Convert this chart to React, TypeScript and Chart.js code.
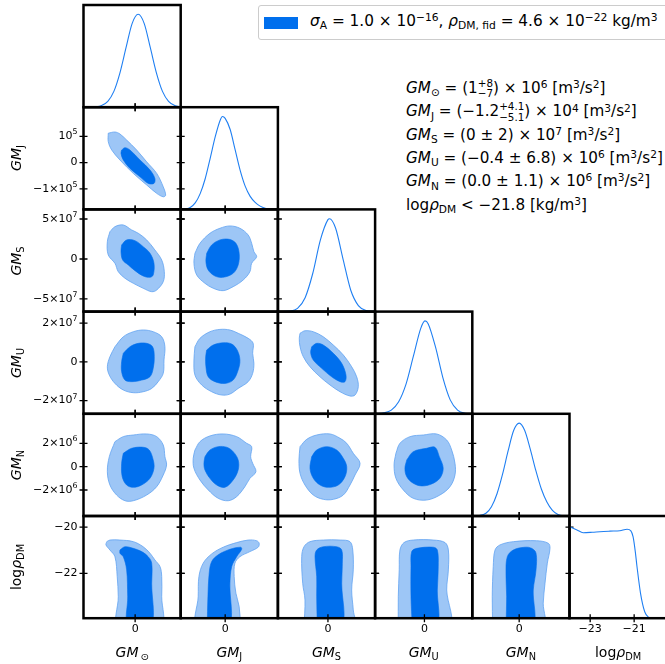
import React, { useEffect, useRef } from 'react';
import { Chart, registerables } from 'chart.js';
Chart.register(...registerables);

// ---------- axis definitions (units: GM_sun 1e6, GM_J 1e4, GM_S 1e7, GM_U 1e6, GM_N 1e6 m^3/s^2; log rho) ----------
const RANGES: [number, number][] = [[-34, 30], [-17.8, 21.1], [-6.58, 6.2], [-26.8, 26.0], [-4.23, 4.54], [-23.94, -19.52]];
const X_TICKS = [[0], [0], [0], [0], [0], [-23, -21]];
const X_TICK_LABELS = [['0'], ['0'], ['0'], ['0'], ['0'], ['−23', '−21']];
const Y_TICKS = [[], [-10, 0, 10], [-5, 0, 5], [-20, 0, 20], [-2, 0, 2], [-22, -20]];
const Y_TICK_LABELS = [[], ['−1×10^5', '0', '10^5'], ['−5×10^7', '0', '5×10^7'], ['−2×10^7', '0', '2×10^7'], ['−2×10^6', '0', '2×10^6'], ['−22', '−20']];

// ---------- 1D marginals (x, relative density) ----------
const sunCurve = [[-30, 0], [-26, 0.004], [-22, 0.019], [-18, 0.063], [-14, 0.17], [-10, 0.37], [-6, 0.64], [-2, 0.9], [2, 1.0], [6, 0.9], [10, 0.64], [14, 0.37], [18, 0.17], [22, 0.063], [26, 0.019], [30, 0.004]];
const jCurve = [[-17.8, 0], [-16, 0.005], [-14, 0.02], [-12, 0.07], [-10, 0.17], [-8, 0.33], [-6, 0.55], [-4, 0.78], [-2, 0.96], [-1.1, 1.0], [0, 0.98], [2, 0.86], [4, 0.64], [6, 0.42], [8, 0.25], [10, 0.14], [12, 0.075], [14, 0.035], [16, 0.013], [18, 0.004], [21, 0]];
const sCurve = [[-6.5, 0], [-5, 0.006], [-4, 0.035], [-3, 0.15], [-2, 0.41], [-1, 0.77], [0, 0.99], [0.2, 1.0], [1, 0.9], [2, 0.56], [3, 0.23], [4, 0.065], [5, 0.012], [6.2, 0]];
const uCurve = [[-26.8, 0], [-22, 0.01], [-18, 0.04], [-14, 0.13], [-10, 0.32], [-6, 0.62], [-2, 0.92], [0.3, 1.0], [2, 0.97], [6, 0.72], [10, 0.39], [14, 0.15], [18, 0.04], [22, 0.006], [26, 0]];
const nCurve = [[-4.23, 0], [-3.6, 0.005], [-3, 0.03], [-2.5, 0.1], [-2, 0.24], [-1.5, 0.45], [-1, 0.7], [-0.5, 0.92], [0, 1.0], [0.5, 0.92], [1, 0.72], [1.5, 0.49], [2, 0.29], [2.5, 0.15], [3, 0.06], [3.5, 0.015], [4, 0.002], [4.54, 0]];
const rhoCurve = [[-23.94, 0.985], [-23.6, 0.95], [-23.32, 0.92], [-22.9, 0.925], [-22.56, 0.931], [-22.1, 0.937], [-21.65, 0.942], [-21.32, 0.957], [-21.15, 0.94], [-21.05, 0.877], [-20.95, 0.72], [-20.87, 0.554], [-20.71, 0.268], [-20.52, 0.07], [-20.34, 0.01], [-20.2, 0]];

// ---------- 2D contours: inner (68%) and outer (95%) ----------
const sunJ_outer = [[-17.7, 11.2], [-13.3, 11.65], [-10.0, 10.9], [-5.6, 8.6], [1.0, 4.8], [7.6, 0.3], [14.2, -4.1], [18.5, -9.2], [20.1, -12.4], [18.5, -13.0], [14.2, -11.7], [7.6, -8.5], [-1.2, -4.1], [-10.0, 1.0], [-15.4, 4.8], [-17.7, 8.0]];
const sunJ_inner = [[-8.9, 4.8], [-6.7, 5.7], [-3.4, 4.8], [3.2, 1.0], [9.8, -2.8], [13.0, -6.0], [12.4, -7.9], [8.6, -7.9], [3.2, -5.4], [-3.4, -2.2], [-7.8, 1.0], [-9.3, 3.5]];
const sunS_outer = [[-16.6, 3.41], [-13.3, 4.04], [-7.8, 4.25], [-2.3, 3.63], [2.1, 3.21], [7.6, 2.38], [13.0, 1.13], [17.5, -0.13], [19.2, -1.59], [18.5, -2.84], [14.2, -3.88], [10.9, -4.09], [5.3, -3.66], [-1.2, -3.04], [-6.7, -2.41], [-11.1, -1.59], [-13.3, -0.54], [-17.7, 0.5], [-18.3, 2.16]];
const sunS_inner = [[-8.9, 1.75], [-5.6, 2.38], [-0.1, 2.29], [5.3, 1.54], [9.8, 0.71], [12.4, -0.54], [11.9, -2.0], [9.8, -2.29], [5.3, -2.13], [-0.1, -1.46], [-4.5, -0.75], [-8.2, -0.13], [-9.3, 0.91]];
const sunU_outer = [[-13.3, 7.85], [-7.8, 13.0], [-1.2, 15.6], [5.3, 16.5], [11.9, 15.6], [17.5, 13.0], [19.6, 7.85], [19.0, 1.0], [18.5, -5.9], [15.2, -10.2], [10.9, -13.7], [5.3, -15.4], [-1.2, -15.9], [-7.8, -14.5], [-13.3, -11.1], [-17.0, -6.8], [-18.3, -2.5], [-16.6, 2.7]];
const sunU_inner = [[-7.8, 4.44], [-3.4, 7.85], [2.1, 9.6], [7.6, 9.6], [11.5, 7.85], [12.6, 2.7], [11.9, -3.3], [9.8, -7.6], [4.3, -9.4], [-2.3, -10.2], [-6.7, -9.4], [-8.9, -5.1], [-8.9, 0.1]];
const sunN_outer = [[-13.3, 2.15], [-7.8, 2.58], [-1.2, 2.72], [7.6, 2.81], [14.2, 2.58], [18.5, 1.86], [19.6, 0.86], [20.7, 0.15], [18.5, -0.71], [14.2, -1.71], [7.6, -2.43], [-1.2, -2.92], [-6.7, -2.92], [-12.2, -2.43], [-16.6, -1.57], [-18.3, -0.43], [-17.0, 0.86]];
const sunN_inner = [[-7.8, 1.15], [-2.3, 1.58], [5.3, 1.67], [9.3, 1.43], [11.9, 0.58], [12.4, -0.14], [9.8, -0.99], [4.3, -1.57], [-1.2, -1.77], [-5.6, -1.57], [-8.5, -0.86], [-8.9, 0.29]];
const sunRho_outer = [[-18.7, -20.63], [-16.6, -20.56], [-10.0, -20.56], [-1.2, -20.63], [5.3, -20.85], [9.8, -21.13], [13.0, -21.42], [16.4, -21.71], [17.5, -22.14], [17.5, -23.01], [17.0, -24.3], [-11.1, -24.3], [-11.1, -23.01], [-11.8, -22.14], [-13.3, -21.28], [-16.6, -20.99], [-19.2, -20.77]];
const sunRho_inner = [[-10.0, -20.99], [-6.7, -20.85], [-1.2, -20.92], [4.3, -21.06], [8.6, -21.28], [10.9, -21.56], [10.9, -22.43], [10.4, -24.3], [-4.5, -24.3], [-4.9, -23.01], [-5.6, -21.85], [-7.8, -21.28], [-10.0, -21.13]];
const jS_outer = [[-12.1, 0.71], [-10.1, 1.96], [-6.1, 3.21], [-2.1, 3.84], [1.9, 4.13], [5.9, 3.84], [9.2, 3.0], [10.6, 1.96], [11.5, 0.91], [12.6, 0.29], [10.6, -0.54], [9.9, -1.59], [7.2, -2.63], [3.2, -3.46], [-0.8, -3.96], [-4.8, -3.66], [-8.1, -3.04], [-11.4, -2.0], [-12.5, -0.54]];
const jS_inner = [[-7.4, 0.71], [-5.4, 1.75], [-2.1, 2.38], [1.6, 2.46], [4.3, 1.96], [5.6, 0.71], [5.2, -0.75], [3.2, -1.79], [-0.8, -2.29], [-4.1, -2.13], [-6.8, -1.38], [-7.7, -0.34]];
const jU_outer = [[-12.1, 7.85], [-10.1, 12.2], [-6.1, 15.6], [-2.1, 16.8], [1.9, 16.5], [5.2, 14.8], [9.2, 12.2], [11.2, 9.6], [11.0, 4.4], [11.5, -0.7], [11.0, -5.9], [9.2, -10.2], [5.2, -13.7], [1.9, -16.6], [-1.4, -17.1], [-5.4, -15.4], [-9.4, -11.9], [-12.1, -6.8], [-12.5, 1.0]];
const jU_inner = [[-7.4, 6.15], [-4.8, 8.73], [-0.8, 9.9], [2.6, 9.25], [4.8, 6.15], [5.9, 0.98], [5.2, -4.19], [3.2, -9.36], [-0.1, -11.1], [-4.1, -10.2], [-6.8, -7.66], [-7.7, -2.49], [-7.8, 2.68]];
const jN_outer = [[-12.1, 1.43], [-10.1, 2.15], [-6.1, 2.64], [-0.8, 2.81], [4.6, 2.58], [8.6, 2.01], [10.6, 1.72], [10.2, 0.86], [11.0, 0.29], [12.3, -0.43], [9.9, -1.0], [7.9, -1.71], [4.6, -2.57], [1.2, -2.92], [-2.8, -2.71], [-6.8, -1.99], [-10.1, -1.14], [-12.5, -0.14], [-12.8, 0.72]];
const jN_inner = [[-8.1, 0.86], [-6.1, 1.43], [-2.8, 1.72], [0.6, 1.67], [3.2, 1.29], [5.2, 0.58], [5.2, -0.28], [3.2, -1.14], [-0.1, -1.77], [-3.4, -1.57], [-6.1, -1.0], [-8.1, -0.28], [-8.5, 0.29]];
const jRho_outer = [[6.2, -24.3], [5.6, -23.44], [4.3, -22.86], [3.6, -22.14], [3.9, -21.56], [5.9, -21.28], [9.9, -21.06], [13.2, -20.87], [13.6, -20.70], [12.6, -20.59], [9.2, -20.56], [4.6, -20.67], [-0.8, -20.87], [-5.4, -21.16], [-8.8, -21.56], [-10.5, -22.14], [-10.8, -23.01], [-11.2, -24.3]];
const jRho_inner = [[-7.2, -24.3], [-6.9, -23.01], [-6.4, -22.0], [-5.4, -21.49], [-2.8, -21.2], [1.9, -20.96], [6.2, -20.87], [6.6, -20.96], [4.6, -21.28], [2.6, -21.71], [1.9, -22.43], [1.6, -24.3]];
const sU_outer = [[-3.67, 14.8], [-3.02, 16.1], [-1.93, 15.6], [-0.61, 13.0], [0.71, 8.7], [2.02, 3.6], [3.12, -2.5], [3.78, -7.7], [3.99, -12.8], [3.56, -17.1], [2.9, -17.6], [1.59, -15.4], [0.27, -11.9], [-1.04, -7.7], [-2.36, -2.5], [-3.24, 2.7], [-3.67, 7.9], [-3.77, 12.2]];
const sU_inner = [[-2.14, 7.85], [-1.48, 9.6], [-0.61, 8.73], [0.71, 4.44], [1.81, -0.73], [2.37, -6.78], [2.24, -10.2], [1.59, -10.2], [0.49, -7.66], [-0.82, -3.31], [-1.93, 0.98], [-2.27, 4.75]];
const sN_outer = [[-3.67, 1.72], [-2.79, 2.35], [-1.48, 2.72], [0.27, 2.81], [1.59, 2.44], [2.47, 2.01], [3.33, 1.15], [4.22, 0.29], [3.56, -0.71], [2.9, -1.57], [2.02, -2.43], [0.71, -2.80], [-0.61, -2.80], [-1.93, -2.43], [-3.02, -1.57], [-3.67, -0.57], [-3.81, 0.58]];
const sN_inner = [[-2.14, 0.86], [-1.48, 1.43], [-0.16, 1.72], [1.15, 1.43], [2.02, 0.72], [2.47, 0.0], [2.24, -0.86], [1.36, -1.57], [0.05, -1.77], [-1.04, -1.57], [-1.93, -0.99], [-2.36, -0.14]];
const sRho_outer = [[-3.15, -24.3], [-3.02, -23.15], [-3.32, -22.43], [-3.45, -21.28], [-3.15, -20.85], [-2.36, -20.63], [-0.61, -20.56], [1.59, -20.56], [2.9, -20.63], [3.26, -20.99], [3.33, -21.85], [3.12, -22.72], [3.33, -23.58], [3.43, -24.3]];
const sRho_inner = [[-1.4, -24.3], [-1.48, -23.01], [-1.48, -22.14], [-1.7, -21.28], [-1.48, -20.99], [-0.61, -20.85], [1.15, -20.85], [1.81, -20.99], [1.89, -21.56], [1.81, -22.43], [1.81, -24.3]];
const uN_outer = [[-15.5, 1.15], [-13.3, 2.01], [-7.8, 2.58], [-0.6, 2.72], [6.6, 2.81], [12.1, 2.29], [14.8, 1.43], [16.6, 0.29], [16.6, -0.71], [13.9, -1.71], [8.4, -2.43], [1.2, -2.86], [-6.1, -2.71], [-11.5, -1.99], [-15.5, -0.99], [-16.5, 0.15]];
const uN_inner = [[-9.6, 0.58], [-6.1, 1.29], [1.2, 1.58], [5.7, 1.67], [8.1, 0.86], [10.2, -0.14], [8.4, -0.99], [3.9, -1.48], [-1.5, -1.65], [-6.1, -1.42], [-9.6, -0.86], [-10.6, -0.14]];
const uRho_outer = [[-14.2, -24.3], [-14.2, -23.01], [-13.7, -21.85], [-13.3, -20.99], [-11.1, -20.67], [-6.1, -20.56], [4.8, -20.56], [11.2, -20.67], [13.0, -20.99], [13.0, -21.85], [12.1, -22.72], [13.5, -24.3]];
const uRho_inner = [[-6.6, -24.3], [-7.3, -23.01], [-7.3, -21.71], [-6.9, -21.06], [-4.2, -20.92], [4.8, -20.87], [7.0, -20.99], [7.5, -21.71], [7.0, -22.72], [6.6, -24.3]];
const nRho_outer = [[-2.39, -24.3], [-2.43, -23.01], [-2.34, -21.71], [-2.18, -20.99], [-1.73, -20.77], [-0.53, -20.63], [1.58, -20.59], [2.63, -20.70], [2.78, -20.92], [2.54, -21.56], [2.33, -22.43], [2.17, -23.29], [2.17, -24.3]];
const nRho_inner = [[-1.19, -24.3], [-1.13, -23.01], [-1.19, -22.0], [-1.07, -21.28], [-0.53, -20.99], [0.52, -20.87], [1.13, -20.92], [1.52, -21.13], [1.52, -21.85], [1.27, -22.72], [1.22, -24.3]];

const CURVES = [sunCurve, jCurve, sCurve, uCurve, nCurve, rhoCurve];
const CONTOURS: Record<string, number[][][]> = {
  '1,0': [sunJ_inner, sunJ_outer], '2,0': [sunS_inner, sunS_outer], '3,0': [sunU_inner, sunU_outer],
  '4,0': [sunN_inner, sunN_outer], '5,0': [sunRho_inner, sunRho_outer],
  '2,1': [jS_inner, jS_outer], '3,1': [jU_inner, jU_outer], '4,1': [jN_inner, jN_outer], '5,1': [jRho_inner, jRho_outer],
  '3,2': [sU_inner, sU_outer], '4,2': [sN_inner, sN_outer], '5,2': [sRho_inner, sRho_outer],
  '4,3': [uN_inner, uN_outer], '5,3': [uRho_inner, uRho_outer],
  '5,4': [nRho_inner, nRho_outer],
};

// ---------- style ----------
const COL_L = 83.5, COL_W = 97.2, ROW_T = 5, ROW_H = 102.2;
const FONT = '"DejaVu Sans", sans-serif';
const DARK = '#006FED';
const LIGHT = '#9DC6F6';
const EDGE = '#62A3F1';
const LINE = '#1F7FF2';
const TICK_FONT = 11;

function drawLabel(ctx: CanvasRenderingContext2D, text: string, x: number, y: number, align: string, size: number) {
  const parts = text.split('^');
  const base = parts[0];
  const exp = parts[1];
  const es = size * 0.72;
  ctx.font = `${size}px ${FONT}`;
  const wb = ctx.measureText(base).width;
  let we = 0;
  if (exp) { ctx.font = `${es}px ${FONT}`; we = ctx.measureText(exp).width; }
  const total = wb + we;
  const x0 = align === 'right' ? x - total : x - total / 2;
  ctx.textAlign = 'left';
  ctx.textBaseline = 'middle';
  ctx.fillStyle = '#000';
  ctx.font = `${size}px ${FONT}`;
  ctx.fillText(base, x0, y);
  if (exp) { ctx.font = `${es}px ${FONT}`; ctx.fillText(exp, x0 + wb, y - size * 0.38); }
}

function Panel({ r, c }: { r: number; c: number }) {
  const ref = useRef<HTMLCanvasElement>(null);
  const L = COL_L + c * COL_W, T = ROW_T + r * ROW_H, R = L + COL_W, B = T + ROW_H;
  const padL = c === 0 ? 82 : 8, padR = 8, padT = 8, padB = r === 5 ? 24 : 8;
  const left = Math.floor(L - padL), top = Math.floor(T - padT);
  const w = Math.ceil(R + padR) - left, h = Math.ceil(B + padB) - top;
  const diag = r === c;

  useEffect(() => {
    const canvas = ref.current;
    if (!canvas) return;
    const toXY = (arr: number[][]) => arr.map(p => ({ x: p[0], y: p[1] }));
    const closed = (arr: number[][]) => toXY([...arr, arr[0]]);
    let datasets: any[];
    if (diag) {
      datasets = [{ data: toXY(CURVES[c]), borderColor: LINE, borderWidth: 1.1, pointRadius: 0, fill: false, cubicInterpolationMode: 'monotone', clip: 0 }];
    } else {
      const [inner, outer] = CONTOURS[`${r},${c}`];
      datasets = [
        { data: closed(inner), backgroundColor: DARK, borderColor: DARK, borderWidth: 0.6, fill: 'shape', tension: 0.35, pointRadius: 0, clip: 0 },
        { data: closed(outer), backgroundColor: LIGHT, borderColor: EDGE, borderWidth: 0.8, fill: 'shape', tension: 0.35, pointRadius: 0, clip: 0 },
      ];
    }
    const frame = {
      id: 'frame',
      afterDatasetsDraw(chart: any) {
        const { ctx, chartArea: a, scales } = chart;
        const xs = scales.x, ys = scales.y;
        ctx.save();
        ctx.strokeStyle = '#000';
        ctx.lineWidth = 1.3;
        const tl = 4;
        ctx.beginPath();
        X_TICKS[c].forEach(v => {
          const px = xs.getPixelForValue(v);
          ctx.moveTo(px, a.bottom - tl); ctx.lineTo(px, a.bottom + tl);
          if (!diag) { ctx.moveTo(px, a.top - tl); ctx.lineTo(px, a.top + tl); }
        });
        if (!diag) {
          Y_TICKS[r].forEach(v => {
            const py = ys.getPixelForValue(v);
            ctx.moveTo(a.left - tl, py); ctx.lineTo(a.left + tl, py);
            ctx.moveTo(a.right - tl, py); ctx.lineTo(a.right + tl, py);
          });
        }
        ctx.stroke();
        ctx.lineWidth = 2.5;
        ctx.strokeRect(a.left, a.top, a.right - a.left, a.bottom - a.top);
        if (c === 0 && !diag) {
          Y_TICKS[r].forEach((v, i) => drawLabel(ctx, Y_TICK_LABELS[r][i], a.left - 6, ys.getPixelForValue(v), 'right', TICK_FONT));
        }
        if (r === 5) {
          X_TICKS[c].forEach((v, i) => drawLabel(ctx, X_TICK_LABELS[c][i], xs.getPixelForValue(v), a.bottom + 10.5, 'center', TICK_FONT));
        }
        ctx.restore();
      },
    };
    const chart = new Chart(canvas, {
      type: 'line',
      data: { datasets },
      options: {
        animation: false,
        responsive: false,
        maintainAspectRatio: false,
        events: [],
        layout: { padding: { left: L - left, top: T - top, right: left + w - R, bottom: top + h - B } },
        plugins: { legend: { display: false }, tooltip: { enabled: false } },
        scales: {
          x: { type: 'linear', min: RANGES[c][0], max: RANGES[c][1], display: false },
          y: { type: 'linear', min: diag ? 0 : RANGES[r][0], max: diag ? 1.1 : RANGES[r][1], display: false },
        },
      } as any,
      plugins: [frame],
    });
    return () => chart.destroy();
  }, []);

  return <canvas ref={ref} width={w} height={h} style={{ position: 'absolute', left, top, width: w, height: h }} />;
}

const Sub = ({ children }: any) => <span style={{ fontSize: '0.7em', position: 'relative', top: '0.32em', fontStyle: 'normal' }}>{children}</span>;
const Sup = ({ children }: any) => <span style={{ fontSize: '0.7em', position: 'relative', top: '-0.45em', fontStyle: 'normal' }}>{children}</span>;
const Stack = ({ up, down }: any) => (
  <span style={{ position: 'relative', display: 'inline-block', fontSize: '0.68em', lineHeight: 1 }}>
    <span style={{ visibility: 'hidden' }}>{up.length >= down.length ? up : down}</span>
    <span style={{ position: 'absolute', left: 0, top: '-0.6em' }}>{up}</span>
    <span style={{ position: 'absolute', left: 0, top: '0.42em' }}>{down}</span>
  </span>
);
const GM = ({ s }: any) => <span><i>GM</i><Sub>{s}</Sub></span>;
const Rho = () => <span>log<i>ρ</i><Sub>DM</Sub></span>;
const Unit = () => <span>[m<Sup>3</Sup>/s<Sup>2</Sup>]</span>;

const ROW_LABELS = [null, <GM s="J" />, <GM s="S" />, <GM s="U" />, <GM s="N" />, <Rho />];
const COL_LABELS = [<span><i>GM</i><Sub>{'\u2009⊙'}</Sub></span>, <GM s="J" />, <GM s="S" />, <GM s="U" />, <GM s="N" />, <Rho />];

const ANNOTATIONS = [
  <span><GM s="⊙" /> = (1<Stack up="+8" down="−7" />) × 10<Sup>6</Sup> <Unit /></span>,
  <span><GM s="J" /> = (−1.2<Stack up="+4.1" down="−5.1" />) × 10<Sup>4</Sup> <Unit /></span>,
  <span><GM s="S" /> = (0 ± 2) × 10<Sup>7</Sup> <Unit /></span>,
  <span><GM s="U" /> = (−0.4 ± 6.8) × 10<Sup>6</Sup> <Unit /></span>,
  <span><GM s="N" /> = (0.0 ± 1.1) × 10<Sup>6</Sup> <Unit /></span>,
  <span>log<i>ρ</i><Sub>DM</Sub> &lt; −21.8 [kg/m<Sup>3</Sup>]</span>,
];

export default function App() {
  useEffect(() => { document.body.style.margin = '0'; }, []);
  const panels: any[] = [];
  for (let r = 0; r < 6; r++) for (let c = 0; c <= r; c++) panels.push(<Panel key={`${r}-${c}`} r={r} c={c} />);
  return (
    <div style={{ position: 'relative', width: 665, height: 664, overflow: 'hidden', background: '#fff', fontFamily: FONT, color: '#000' }}>
      {panels}
      {ROW_LABELS.map((lab, r) => lab && (
        <div key={'rl' + r} style={{ position: 'absolute', left: 16, top: ROW_T + (r + 0.5) * ROW_H, transform: 'translate(-50%,-50%) rotate(-90deg)', whiteSpace: 'nowrap', fontSize: 14 }}>{lab}</div>
      ))}
      {COL_LABELS.map((lab, c) => (
        <div key={'cl' + c} style={{ position: 'absolute', left: COL_L + (c + 0.5) * COL_W, top: 652, transform: 'translate(-50%,-50%)', whiteSpace: 'nowrap', fontSize: 14 }}>{lab}</div>
      ))}
      <div style={{ position: 'absolute', left: 258, top: 5, width: 440, height: 33, border: '1px solid #cccccc', borderRadius: 3, background: '#fff' }} />
      <div style={{ position: 'absolute', left: 264, top: 16.5, width: 34, height: 12, background: DARK }} />
      <div style={{ position: 'absolute', left: 310, top: 12, whiteSpace: 'nowrap', fontSize: 15.3, lineHeight: '18px' }}>
        <i>σ</i><Sub>A</Sub> = 1.0 × 10<Sup>−16</Sup>, <i>ρ</i><Sub>DM, fid</Sub> = 4.6 × 10<Sup>−22</Sup> kg/m<Sup>3</Sup>
      </div>
      {ANNOTATIONS.map((a, i) => (
        <div key={'an' + i} style={{ position: 'absolute', left: 406, top: 88 + i * 23.3 - 10, height: 20, lineHeight: '20px', whiteSpace: 'nowrap', fontSize: 15.2 }}>{a}</div>
      ))}
    </div>
  );
}
